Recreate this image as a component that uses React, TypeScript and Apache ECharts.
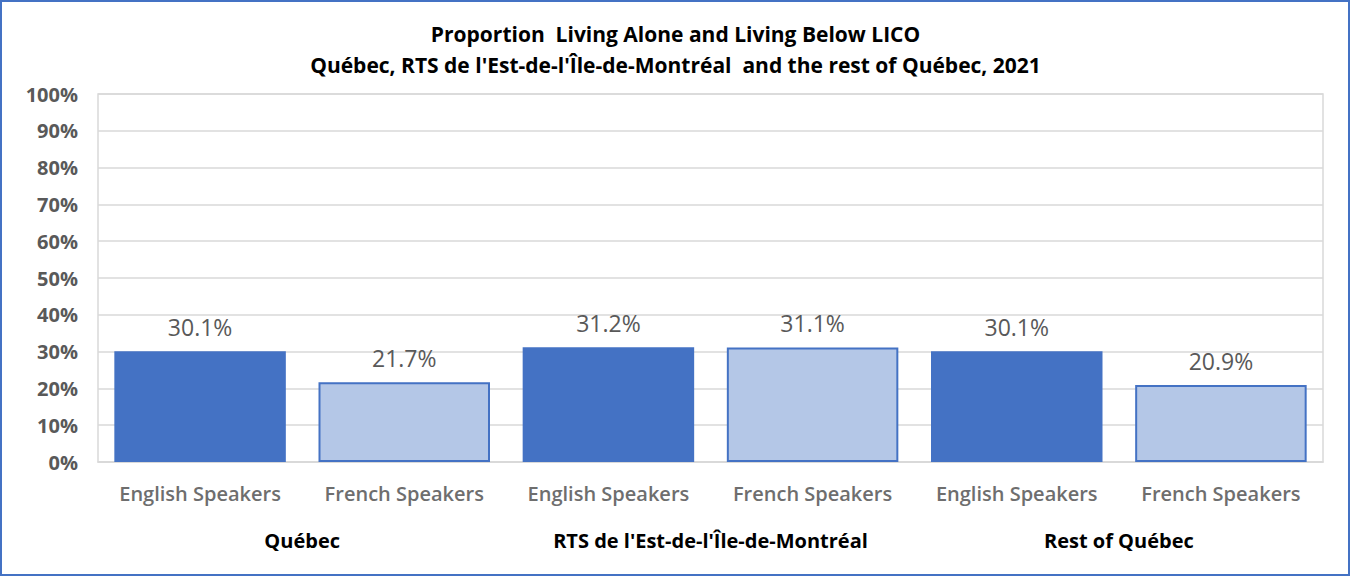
import React, { useEffect, useRef } from "react";
import * as echarts from "echarts";

const titleLines = [
  "Proportion  Living Alone and Living Below LICO",
  "Québec, RTS de l'Est-de-l'Île-de-Montréal  and the rest of Québec, 2021",
];
const speakerLabels = [
  "English Speakers",
  "French Speakers",
  "English Speakers",
  "French Speakers",
  "English Speakers",
  "French Speakers",
];
const groupLabels = ["Québec", "RTS de l'Est-de-l'Île-de-Montréal", "Rest of Québec"];
const values = [30.1, 21.7, 31.2, 31.1, 30.1, 20.9];
const isEnglish = [true, false, true, false, true, false];

const FONT = "'Open Sans', 'Noto Sans', sans-serif";

export default function App() {
  const ref = useRef<HTMLDivElement>(null);
  useEffect(() => {
    if (!ref.current) return;
    const chart = echarts.init(ref.current, undefined, { renderer: "svg" });
    chart.setOption({
      animation: false,
      backgroundColor: "#ffffff",
      title: {
        text: titleLines.join("\n"),
        left: "center",
        top: 13,
        textStyle: {
          fontFamily: FONT,
          fontWeight: "bold",
          fontSize: 21,
          lineHeight: 31,
          color: "#000000",
        },
      },
      graphic: [
        {
          type: "rect",
          shape: { x: 1, y: 1, width: 1348, height: 574 },
          style: { fill: "none", stroke: "#4472C4", lineWidth: 2 },
          silent: true,
          z: 100,
        },
      ],
      grid: {
        left: 98,
        right: 28,
        top: 94,
        bottom: 115,
        show: true,
        borderColor: "#d9d9d9",
        borderWidth: 1.5,
        containLabel: false,
      },
      xAxis: [
        {
          type: "category",
          data: speakerLabels,
          axisLine: { show: true, lineStyle: { color: "#d9d9d9", width: 1.5 } },
          axisTick: { show: false },
          axisLabel: {
            margin: 21,
            fontFamily: FONT,
            fontSize: 20,
            fontWeight: 600,
            color: "#6e6e6e",
            interval: 0,
          },
        },
        {
          type: "category",
          data: groupLabels,
          position: "bottom",
          axisLine: { show: false },
          axisTick: { show: false },
          axisLabel: {
            margin: 68,
            fontFamily: FONT,
            fontSize: 20,
            fontWeight: "bold",
            color: "#000000",
            interval: 0,
          },
        },
      ],
      yAxis: {
        type: "value",
        min: 0,
        max: 100,
        interval: 10,
        axisLine: { show: false },
        axisTick: { show: false },
        splitLine: { lineStyle: { color: "#d9d9d9", width: 1.5 } },
        axisLabel: {
          margin: 20,
          formatter: (v: number) => `${v}%`,
          fontFamily: FONT,
          fontSize: 20,
          fontWeight: "bold",
          color: "#595959",
        },
      },
      series: [
        {
          type: "bar",
          xAxisIndex: 0,
          barCategoryGap: "16%",
          data: values.map((v, i) => ({
            value: v,
            itemStyle: isEnglish[i]
              ? { color: "#4472C4", borderColor: "#4472C4", borderWidth: 0 }
              : { color: "#B4C7E7", borderColor: "#4472C4", borderWidth: 2 },
          })),
          label: {
            show: true,
            position: "top",
            distance: 13,
            formatter: (p: any) => `${p.value.toFixed(1)}%`,
            fontFamily: FONT,
            fontSize: 23,
            fontWeight: "normal",
            color: "#595959",
          },
        },
      ],
    });
    return () => chart.dispose();
  }, []);
  return (
    <div
      ref={ref}
      style={{ position: "fixed", left: 0, top: 0, width: 1351, height: 577 }}
    />
  );
}
